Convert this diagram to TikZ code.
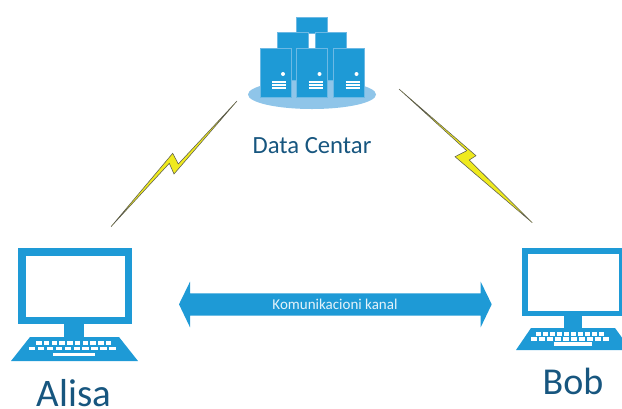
\documentclass[tikz,border=0pt]{standalone}
\usepackage{fontspec}
\setmainfont{Carlito}
\definecolor{netblue}{HTML}{1E9AD6}
\definecolor{edgeblue}{HTML}{6DB9E4}
\definecolor{groundblue}{HTML}{8FC5E9}
\definecolor{labelblue}{HTML}{17567F}
\definecolor{boltyellow}{HTML}{EFEA1E}
\definecolor{boltedge}{HTML}{5A5A50}
\tikzset{
  box/.style={fill=netblue,draw=edgeblue,line width=.5pt},
  flat/.style={fill=netblue,draw=none},
  glass/.style={fill=white,draw=none},
  bolt/.style={fill=boltyellow,draw=boltedge,line width=.55pt,line join=miter,miter limit=20},
  label/.style={text=labelblue,inner sep=0pt,anchor=base}
}
\newcommand{\rackat}[1]{% x left of a rack
  \fill[white] (#1+23,74) circle (2);
  \foreach \yy in {82,85,88}{\draw[white,line width=1.1pt] (#1+12,\yy) -- (#1+26,\yy);}
}
\newcommand{\keyrow}[5]{% x start, x step, count, y top, y bottom
  \foreach \k in {1,...,#3}{\fill[white] ({#1+(\k-1)*#2},#4) rectangle ++({#2*0.72},{#5-#4});}
}
\begin{document}
\begin{tikzpicture}[x=1pt,y=-1pt]
\useasboundingbox (0,0) rectangle (622,408);
\clip (0,0) rectangle (622,408);
% Data centre
\fill[groundblue] (312,94.5) ellipse [x radius=64,y radius=14.5];
\draw[box] (296,17) rectangle (327,33);
\draw[box] (277,32) rectangle (308,80);
\draw[box] (315,32) rectangle (346,80);
\draw[box] (260,48) rectangle (291,97);
\draw[box] (296,48) rectangle (327,97);
\draw[box] (333,48) rectangle (364,97);
\rackat{260}\rackat{296.5}\rackat{333.5}
\node[label,font=\fontsize{24.7}{25}\selectfont] (dc) at (312,153) {Data Centar};
% Bolts
\draw[bolt] (111,226.7) -- (172.7,153.3) -- (178.3,164) -- (237,101) -- (174,174) -- (169.3,163.3) -- cycle;
\draw[bolt] (399,89) -- (476,155.7) -- (469.3,160) -- (532.3,222.7) -- (455,156.7) -- (466.7,150.7) -- cycle;
% Alisa laptop
\fill[flat] (18,248) rectangle (132,324);
\fill[glass] (26,256) rectangle (125,317);
\fill[flat] (64,324) rectangle (84,337);
\fill[flat] (30,337) -- (119,337) -- (138,361) -- (11,361) -- cycle;
\keyrow{36}{7.75}{10}{341}{344.5}
\keyrow{29}{8.9}{10}{346.5}{350}
\fill[white] (53,352.5) rectangle (95,356);
\node[label,font=\fontsize{39}{39}\selectfont] (alisa) at (74,406.5) {Alisa};
% Bob laptop
\fill[flat] (522,248) rectangle (624,316);
\fill[glass] (528,254) rectangle (619,311);
\fill[flat] (564,316) rectangle (582,328);
\fill[flat] (531,328) -- (615,328) -- (631,350) -- (516,350) -- cycle;
\keyrow{536}{7}{10}{332}{336}
\keyrow{531}{8}{10}{337}{341}
\fill[white] (554,342) rectangle (592,346);
\node[label,font=\fontsize{38}{38}\selectfont] (bob) at (573,394) {Bob};
% Channel arrow
\fill[flat] (179,304.3) -- (190,281.7) -- (190,293.3) -- (480.7,293.3) -- (480.7,281.7) -- (491.7,304.3) -- (480.7,327.3) -- (480.7,315.7) -- (190,315.7) -- (190,327.3) -- cycle;
\node[label,text=white!88!netblue,font=\fontsize{15}{15}\selectfont] (chan) at (335,309) {Komunikacioni kanal};
\end{tikzpicture}
\end{document}
